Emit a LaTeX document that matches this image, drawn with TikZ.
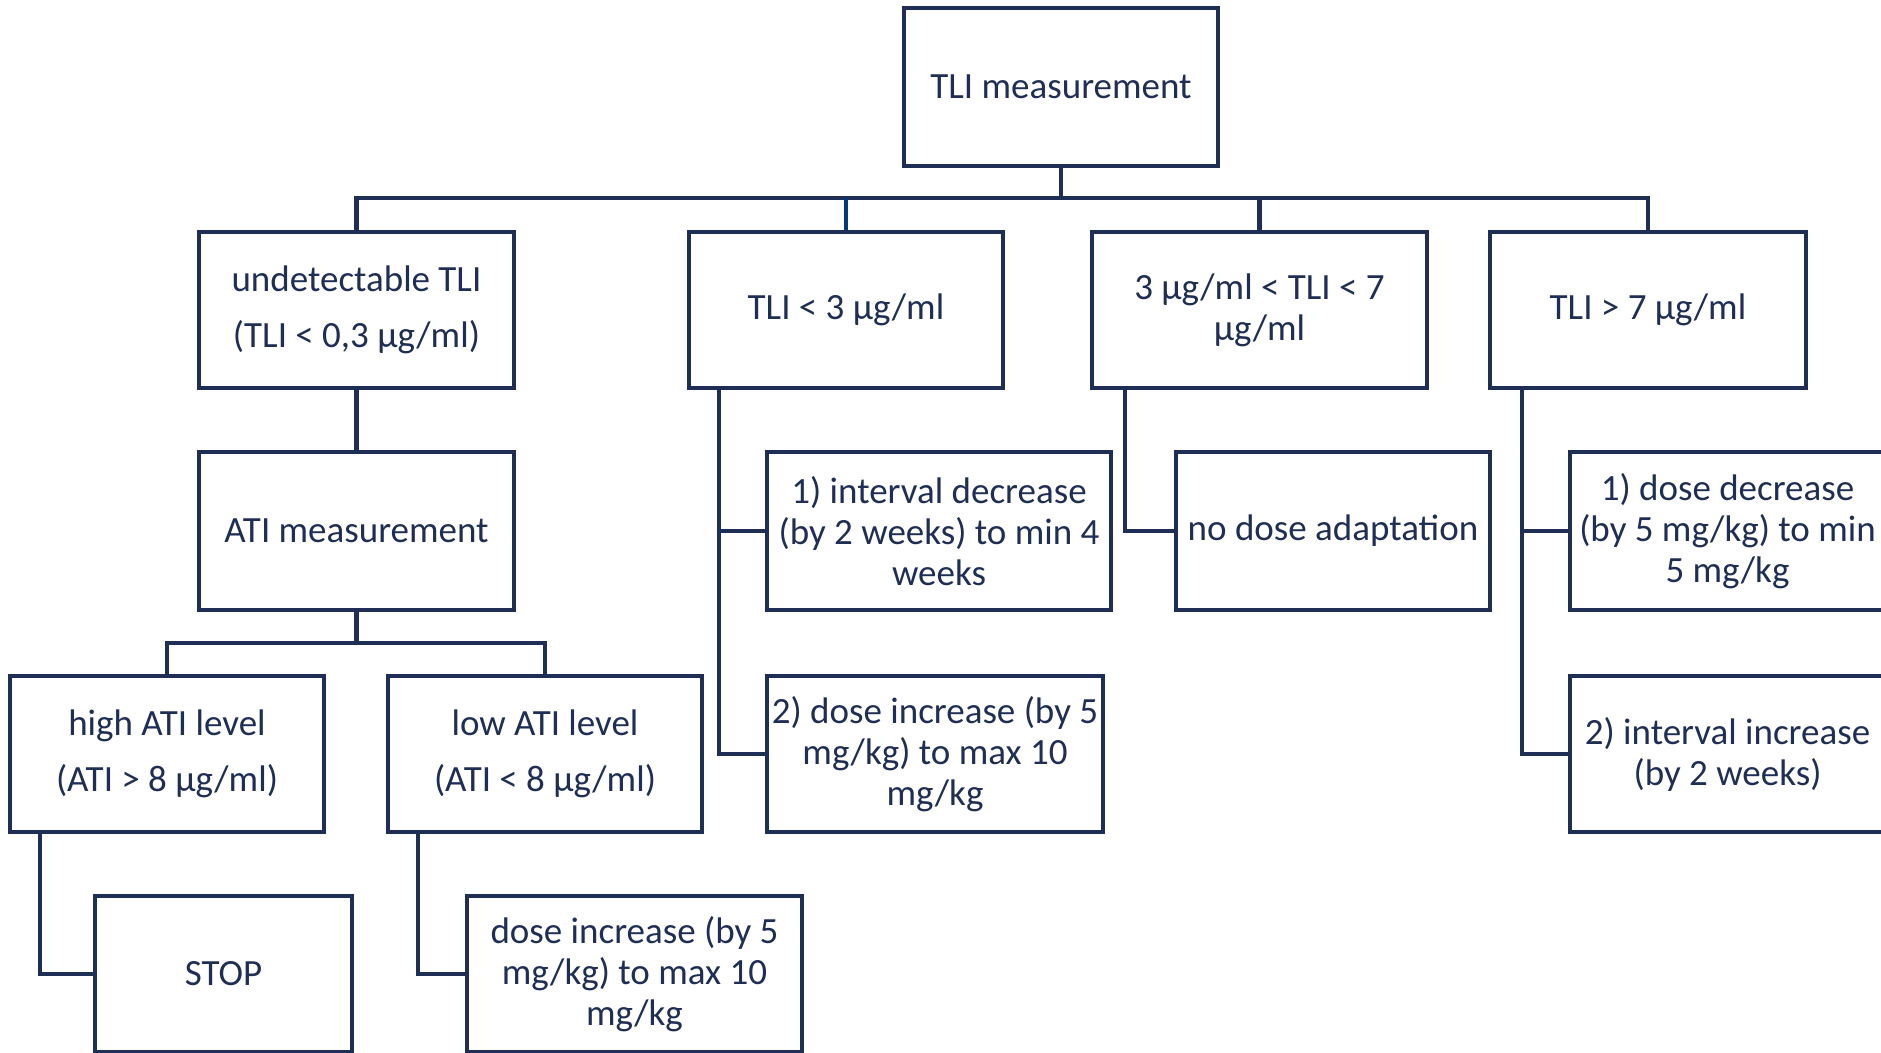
\documentclass[tikz,border=0pt]{standalone}
\usepackage{fontspec}
\setmainfont{Carlito}
\definecolor{navy}{RGB}{31,46,84}
\definecolor{dropblue}{RGB}{0,58,122}

\begin{document}
\begin{tikzpicture}[x=1pt, y=-1pt,
  box/.style={rectangle, draw=navy, line width=4.5pt, text=navy, align=center,
              inner sep=0pt, minimum width=#1, minimum height=156pt,
              font=\fontsize{37}{41}\selectfont},
  box/.default=315pt,
  link/.style={draw=navy, line width=4.5pt}]

  \clip (0,0) rectangle (1881,1052);

  \node[box=314pt, minimum height=158pt] (tli) at (1061,87) {TLI measurement};

  \node[box] (und) at (356.5,310) {undetectable TLI\\[15pt](TLI < 0,3 µg/ml)};
  \node[box=314pt] (lt3) at (846,310) {TLI < 3 µg/ml};
  \node[box=335pt] (mid) at (1259.5,310) {3 µg/ml < TLI < 7\\µg/ml};
  \node[box=316pt] (gt7) at (1648,310) {TLI > 7 µg/ml};

  \node[box, minimum height=158pt] (ati) at (356.5,531) {ATI measurement};
  \node[box=314pt] (high) at (167,754) {high ATI level\\[15pt](ATI > 8 µg/ml)};
  \node[box=314pt] (low) at (545,754) {low ATI level\\[15pt](ATI < 8 µg/ml)};
  \node[box=257pt] (stop) at (223.5,974) {STOP};
  \node[box=335pt] (doseinc) at (634.5,974) {dose increase (by 5\\mg/kg) to max 10\\mg/kg};

  \node[box=344pt, minimum height=158pt] (intdec) at (939,531) {1) interval decrease\\(by 2 weeks) to min 4\\weeks};
  \node[box=336pt] (doseinc2) at (935,754) {2) dose increase (by 5\\mg/kg) to max 10\\mg/kg};

  \node[box=314pt, minimum height=158pt] (noadapt) at (1333,531) {no dose adaptation};

  \node[box, minimum height=158pt] (dosedec) at (1727.5,531) {1) dose decrease\\(by 5 mg/kg) to min\\5 mg/kg};
  \node[box] (intinc) at (1727.5,754) {2) interval increase\\(by 2 weeks)};

  % top level bus
  \coordinate (bus) at (1061,198);
  \draw[link] (tli) -- (bus);
  \draw[link] (und.north) |- (bus) -| (gt7.north);
  \draw[link, draw=dropblue] (lt3.north) -- (lt3.north |- bus);
  \draw[link] (mid.north) -- (mid.north |- bus);

  % ATI part
  \coordinate (atibus) at (356.5,643);
  \draw[link] (und) -- (ati);
  \draw[link] (ati) -- (atibus);
  \draw[link] (high.north) |- (atibus) -| (low.north);
  \draw[link] (high.south west) ++(32,0) |- (stop.west);
  \draw[link] (low.south west) ++(32,0) |- (doseinc.west);

  % side branches
  \draw[link] (lt3.south west) ++(32,0) coordinate (f1) |- (doseinc2.west);
  \draw[link] (f1 |- intdec.west) -- (intdec.west);
  \draw[link] (mid.south west) ++(35,0) |- (noadapt.west);
  \draw[link] (gt7.south west) ++(34,0) coordinate (f3) |- (intinc.west);
  \draw[link] (f3 |- dosedec.west) -- (dosedec.west);

\end{tikzpicture}
\end{document}
